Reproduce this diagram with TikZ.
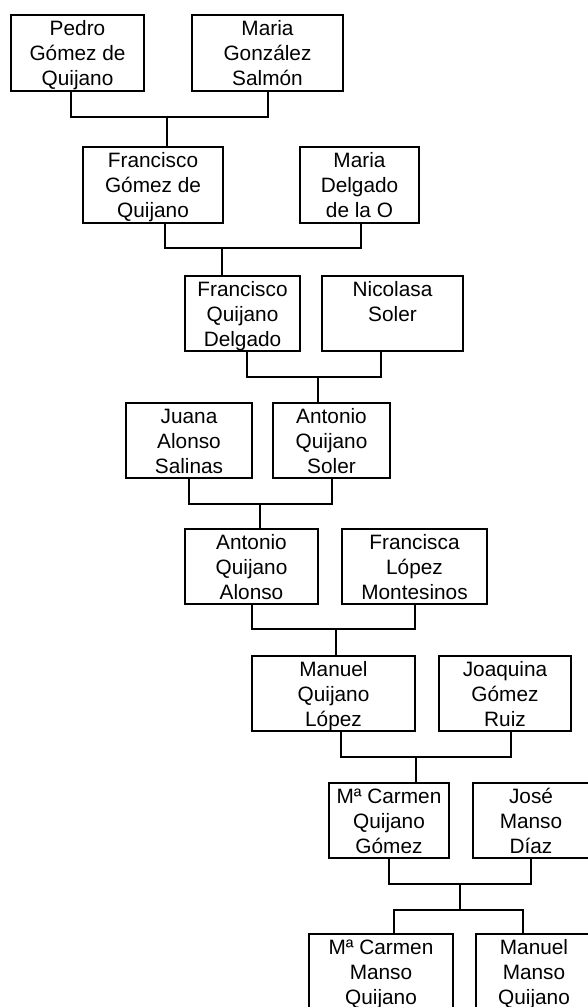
\documentclass[tikz,border=0pt]{standalone}
\usepackage{fontspec}
\setmainfont{Liberation Sans}
\newcommand\ls{\rule[-4.8pt]{0pt}{25pt}}
\begin{document}
\begin{tikzpicture}[x=1pt,y=-1pt,
  box/.style={draw, line width=1.9pt, inner sep=0pt, align=center,
    font=\fontsize{20.8}{25}\selectfont},
  heavy/.style={line width=2.6pt},
  link/.style={draw, line width=1.9pt},
  hlink/.style={draw, line width=2.6pt}]
\fill[white] (0,0) rectangle (588,1007);
\clip (0,0) rectangle (588,1007);
% generation 1
\node[box, heavy, minimum width=133pt, minimum height=76pt] (p1) at (77.5,53) {\ls Pedro\\\ls Gómez de\\\ls Quijano};
\node[box, heavy, minimum width=151pt, minimum height=76pt] (p2) at (267.5,53) {\ls Maria\\\ls González\\\ls Salmón};
% generation 2
\node[box, heavy, minimum width=140pt, minimum height=76pt] (f1) at (153,185) {\ls Francisco\\\ls Gómez de\\\ls Quijano};
\node[box, heavy, minimum width=119pt, minimum height=76pt] (f2) at (359.5,185) {\ls Maria\\\ls Delgado\\\ls de la O};
% generation 3
\node[box, minimum width=115pt, minimum height=75pt] (q1) at (242.5,313.5) {\ls Francisco\\\ls Quijano\\\ls Delgado};
\node[box, minimum width=141pt, minimum height=75pt] (q2) at (392.5,313.5) {\ls Nicolasa\\\ls Soler\\\ls};
% generation 4
\node[box, minimum width=126pt, minimum height=75pt] (j1) at (189,440.5) {\ls Juana\\\ls Alonso\\\ls Salinas};
\node[box, minimum width=117pt, minimum height=75pt] (j2) at (331.5,440.5) {\ls Antonio\\\ls Quijano\\\ls Soler};
% generation 5
\node[box, minimum width=133pt, minimum height=73pt] (a1) at (251.5,566.5) {\ls Antonio\\\ls Quijano\\\ls Alonso};
\node[box, minimum width=145pt, minimum height=73pt] (a2) at (414.5,566.5) {\ls Francisca\\\ls López\\\ls Montesinos};
% generation 6
\node[box, minimum width=163pt, minimum height=75pt] (m1) at (333.5,693.5) {\ls Manuel\\\ls Quijano\\\ls López};
\node[box, minimum width=132pt, minimum height=75pt] (m2) at (505,693.5) {\ls Joaquina\\\ls Gómez\\\ls Ruiz};
% generation 7
\node[box, minimum width=120pt, minimum height=75pt] (c1) at (389,820.5) {\ls Mª Carmen\\\ls Quijano\\\ls Gómez};
\node[box, minimum width=116pt, minimum height=75pt] (c2) at (531,820.5) {\ls José\\\ls Manso\\\ls Díaz};
% generation 8
\node[box, minimum width=144pt, minimum height=76pt] (k1) at (381,972) {\ls Mª Carmen\\\ls Manso\\\ls Quijano};
\node[box, minimum width=116pt, minimum height=76pt] (k2) at (534,972) {\ls Manuel\\\ls Manso\\\ls Quijano};
% junction points
\coordinate (b1) at (167,117);
\coordinate (b2) at (222,248);
\coordinate (b3) at (318,377);
\coordinate (b4) at (260,504);
\coordinate (b5) at (336,629);
\coordinate (b6) at (416,757);
\coordinate (b7) at (460,884);
\coordinate (b8) at (460,910);
% connectors
\draw[hlink] ([xshift=-6.5pt]p1.south) |- (b1) -| ([xshift=0.5pt]p2.south);
\draw[hlink] (b1) -- (b1 |- f1.north);
\draw[hlink] ([xshift=12pt]f1.south) |- (b2) -| ([xshift=1.5pt]f2.south);
\draw[link] (b2) -- (b2 |- q1.north);
\draw[link] ([xshift=4.5pt]q1.south) |- (b3) -| ([xshift=-11.5pt]q2.south);
\draw[link] (b3) -- (b3 |- j2.north);
\draw[link] (j1.south) |- (b4) -| ([xshift=0.5pt]j2.south);
\draw[link] (b4) -- (b4 |- a1.north);
\draw[link] ([xshift=0.5pt]a1.south) |- (b5) -| ([xshift=0.5pt]a2.south);
\draw[link] (b5) -- (b5 |- m1.north);
\draw[link] ([xshift=7.5pt]m1.south) |- (b6) -| ([xshift=6pt]m2.south);
\draw[link] (b6) -- (b6 |- c1.north);
\draw[link] (c1.south) |- (b7) -| (c2.south);
\draw[link] (b7) -- (b8);
\draw[link] ([xshift=13pt]k1.north) |- (b8) -| ([xshift=-11pt]k2.north);
\end{tikzpicture}
\end{document}
